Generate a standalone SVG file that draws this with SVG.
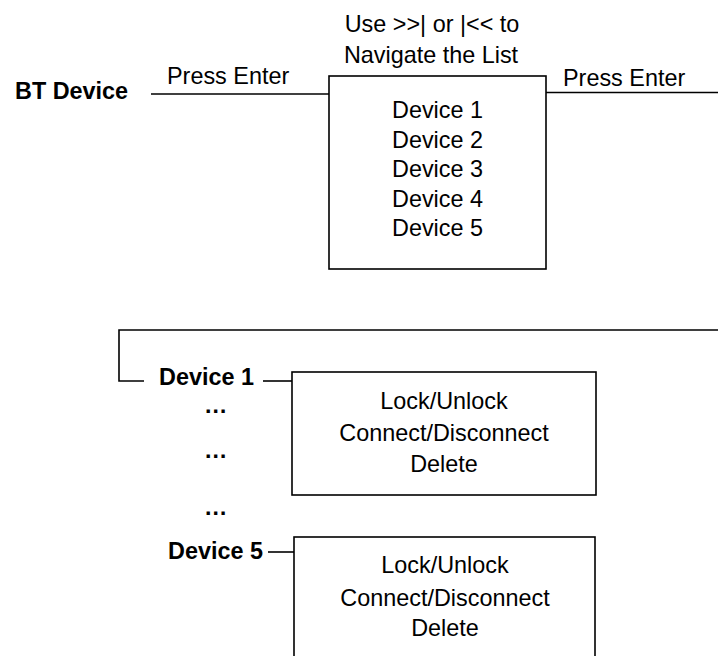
<svg xmlns="http://www.w3.org/2000/svg" width="718" height="656" viewBox="0 0 718 656">
<style>
text{font-family:"Liberation Sans",Arial,sans-serif;font-size:23.4px;fill:#000}
.b{font-weight:bold}
.m{text-anchor:middle}
.box{fill:#fff;stroke:#000;stroke-width:1.6}
.ln{fill:none;stroke:#000;stroke-width:1.6}
</style>
<rect width="718" height="656" fill="#fff"/>
<g id="connectors">
<line class="ln" x1="151" y1="94" x2="329" y2="94"/>
<line class="ln" x1="546" y1="92.5" x2="718" y2="92.5"/>
<polyline class="ln" points="718,330 119,330 119,381 144,381"/>
<line class="ln" x1="263" y1="381" x2="292" y2="381"/>
<line class="ln" x1="268" y1="552" x2="294" y2="552"/>
<text x="167" y="84">Press Enter</text>
<text x="563" y="86">Press Enter</text>
</g>
<g id="bt-device"><text class="b" x="15" y="99">BT Device</text></g>
<g id="device-list">
<text class="m" x="432" y="32">Use &gt;&gt;| or |&lt;&lt; to</text>
<text class="m" x="431" y="63">Navigate the List</text>
<rect class="box" x="329" y="76" width="217" height="193"/>
<text class="m" x="437.5" y="118">Device 1</text>
<text class="m" x="437.5" y="148">Device 2</text>
<text class="m" x="437.5" y="177">Device 3</text>
<text class="m" x="437.5" y="207">Device 4</text>
<text class="m" x="437.5" y="236">Device 5</text>
</g>
<g id="device1-label"><text class="b" x="159" y="385">Device 1</text></g>
<g id="ellipsis">
<text class="b" x="204" y="413">…</text>
<text class="b" x="204" y="458">…</text>
<text class="b" x="204" y="515">…</text>
</g>
<g id="device5-label"><text class="b" x="168" y="559">Device 5</text></g>
<g id="device1-menu">
<rect class="box" x="292" y="372" width="304" height="123"/>
<text class="m" x="444" y="409">Lock/Unlock</text>
<text class="m" x="444" y="441">Connect/Disconnect</text>
<text class="m" x="444" y="472">Delete</text>
</g>
<g id="device5-menu">
<rect class="box" x="294" y="537" width="301" height="130"/>
<text class="m" x="445" y="573">Lock/Unlock</text>
<text class="m" x="445" y="606">Connect/Disconnect</text>
<text class="m" x="445" y="636">Delete</text>
</g>
</svg>
